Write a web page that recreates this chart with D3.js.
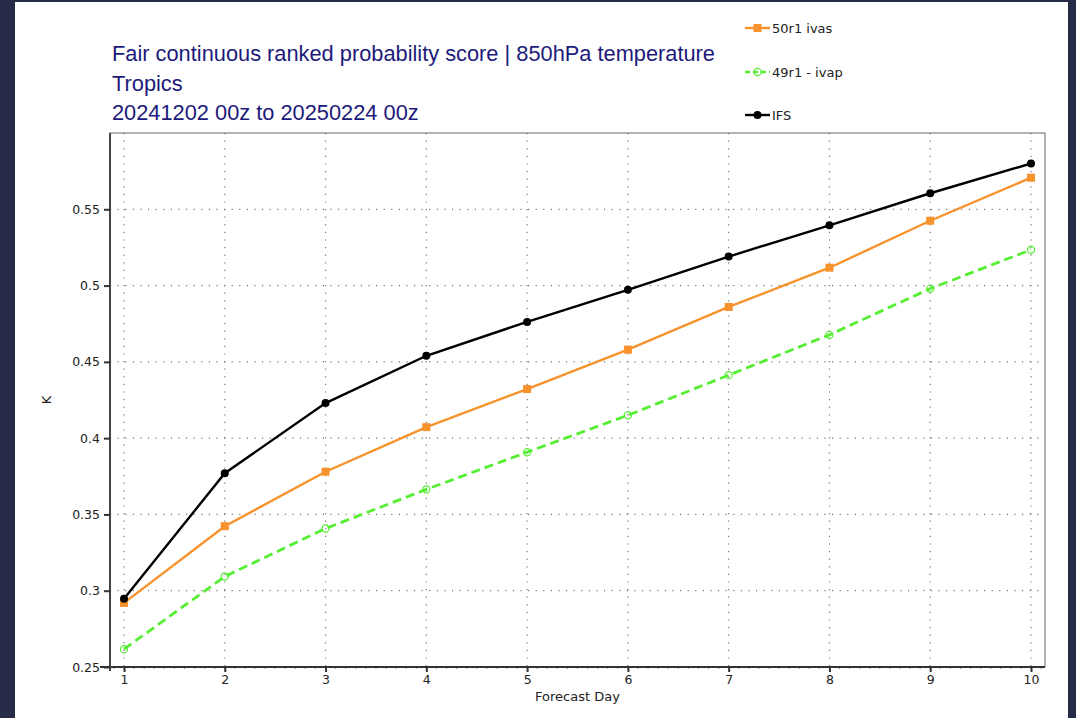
<!DOCTYPE html>
<html>
<head>
<meta charset="utf-8">
<script src="https://cdn.jsdelivr.net/npm/d3@7"></script>
<style>
  html, body { margin: 0; padding: 0; background: #262c47; }
  svg { display: block; }
</style>
</head>
<body>
<div id="chart"></div>
<script>
// forecast days and scores
const days = [1, 2, 3, 4, 5, 6, 7, 8, 9, 10];
const ivas50r1 = [0.2920, 0.3423, 0.3780, 0.4072, 0.4322, 0.4580, 0.4860, 0.5117, 0.5425, 0.5707];
const ivap49r1 = [0.2617, 0.3093, 0.3408, 0.3664, 0.3908, 0.4150, 0.4413, 0.4677, 0.4980, 0.5235];
const ifs = [0.2948, 0.3770, 0.4230, 0.4540, 0.4762, 0.4972, 0.5190, 0.5395, 0.5605, 0.5800];
const yTicks = [0.25, 0.3, 0.35, 0.4, 0.45, 0.5, 0.55];
const titleLines = ['Fair continuous ranked probability score | 850hPa temperature', 'Tropics', '20241202 00z to 20250224 00z'];

const series = [
	{name: '50r1 ivas', values: ivas50r1, color: '#f7922c', marker: 'square', dash: null},
	{name: '49r1 - ivap', values: ivap49r1, color: '#55ee33', marker: 'open', dash: '9,5'},
	{name: 'IFS', values: ifs, color: '#000000', marker: 'dot', dash: null}
];

const width = 1076, height = 718;
const plotLeft = 110, plotRight = 1045, plotTop = 133, plotBottom = 667;

var svg = d3.select('#chart')
	.append('svg')
	.attr('width', width)
	.attr('height', height);

svg.append('rect')
	.attr('x', 15).attr('y', 2)
	.attr('width', 1053).attr('height', height)
	.attr('fill', '#ffffff');

var xScale = d3.scaleLinear()
	.domain([0.861, 10.139])
	.range([plotLeft, plotRight]);

var yScale = d3.scaleLinear()
	.domain([0.25, 0.6])
	.range([plotBottom, plotTop]);

// title
svg.append('g')
	.selectAll('text')
	.data(titleLines)
	.enter()
	.append('text')
	.attr('x', 112)
	.attr('y', (d, i) => 61 + i * 29.5)
	.attr('font-family', 'Liberation Sans, Arial, sans-serif')
	.attr('font-size', 21.8)
	.attr('fill', '#1c1a7a')
	.text(d => d);

// grid
svg.append('g')
	.selectAll('line')
	.data(days)
	.enter()
	.append('line')
	.attr('x1', d => xScale(d)).attr('x2', d => xScale(d))
	.attr('y1', plotTop).attr('y2', plotBottom)
	.attr('stroke', '#777')
	.attr('stroke-width', 1.2)
	.attr('stroke-dasharray', '1.2,6.4');

svg.append('g')
	.selectAll('line')
	.data(yTicks.slice(1))
	.enter()
	.append('line')
	.attr('x1', plotLeft).attr('x2', plotRight)
	.attr('y1', d => yScale(d)).attr('y2', d => yScale(d))
	.attr('stroke', '#777')
	.attr('stroke-width', 1.2)
	.attr('stroke-dasharray', '1.2,6.4');

// frame
svg.append('rect')
	.attr('x', plotLeft).attr('y', plotTop)
	.attr('width', plotRight - plotLeft).attr('height', plotBottom - plotTop)
	.attr('fill', 'none')
	.attr('stroke', '#666')
	.attr('stroke-width', 1);

// minor ticks on bottom axis
svg.append('g')
	.selectAll('line')
	.data(d3.range(0.9, 10.11, 0.1))
	.enter()
	.append('line')
	.attr('x1', d => xScale(d)).attr('x2', d => xScale(d))
	.attr('y1', plotBottom).attr('y2', plotBottom + 2)
	.attr('stroke', '#777')
	.attr('stroke-width', 0.8);

var xAxis = g => g
	.attr('transform', `translate(0,${plotBottom})`)
	.call(d3.axisBottom(xScale).tickValues(days).tickSize(5).tickPadding(3).tickFormat(d3.format('d')))
	.call(g => g.select('.domain').attr('stroke', '#333').attr('stroke-width', 2).attr('d', `M${plotLeft - 10},0H${plotRight}`));

var yAxis = g => g
	.attr('transform', `translate(${plotLeft},0)`)
	.call(d3.axisLeft(yScale).tickValues(yTicks).tickSize(6).tickPadding(4).tickFormat(d => String(d)))
	.call(g => g.select('.domain').attr('stroke', '#444').attr('stroke-width', 2).attr('d', `M0,${plotBottom + 4}V${plotTop}`));

svg.append('g').call(xAxis);
svg.append('g').call(yAxis);

svg.selectAll('.tick text')
	.attr('font-family', 'DejaVu Sans, sans-serif')
	.attr('font-size', 12.5)
	.attr('fill', '#222');
svg.selectAll('.tick line')
	.attr('stroke', '#333')
	.attr('stroke-width', 2);

// axis labels
svg.append('text')
	.attr('x', (plotLeft + plotRight) / 2)
	.attr('y', 701)
	.attr('text-anchor', 'middle')
	.attr('font-family', 'DejaVu Sans, sans-serif')
	.attr('font-size', 13)
	.attr('fill', '#222')
	.text('Forecast Day');

svg.append('text')
	.attr('transform', 'translate(51,400) rotate(-90)')
	.attr('text-anchor', 'middle')
	.attr('font-family', 'DejaVu Sans, sans-serif')
	.attr('font-size', 13)
	.attr('fill', '#222')
	.text('K');

// series
var line = d3.line()
	.x((d, i) => xScale(days[i]))
	.y(d => yScale(d));

function drawMarker(g, s, x, y) {
	if (s.marker === 'square') {
		g.append('rect')
			.attr('x', x - 4).attr('y', y - 4)
			.attr('width', 8).attr('height', 8)
			.attr('fill', s.color);
	} else if (s.marker === 'open') {
		g.append('circle')
			.attr('cx', x).attr('cy', y).attr('r', 3.6)
			.attr('fill', 'none')
			.attr('stroke', s.color)
			.attr('stroke-width', 1.2);
	} else {
		g.append('circle')
			.attr('cx', x).attr('cy', y).attr('r', 4)
			.attr('fill', s.color);
	}
}

for (let s of series) {
	var g = svg.append('g');
	g.append('path')
		.attr('d', line(s.values))
		.attr('fill', 'none')
		.attr('stroke', s.color)
		.attr('stroke-width', s.dash ? 2.8 : 2.4)
		.attr('stroke-dasharray', s.dash);
	s.values.forEach((v, i) => drawMarker(g, s, xScale(days[i]), yScale(v)));
}

// legend
const legendY = [28, 72, 115];
series.forEach((s, i) => {
	var g = svg.append('g');
	var y = legendY[i];
	g.append('line')
		.attr('x1', 745).attr('x2', 770)
		.attr('y1', y).attr('y2', y)
		.attr('stroke', s.color)
		.attr('stroke-width', 2.4)
		.attr('stroke-dasharray', s.dash ? '5,3' : null);
	drawMarker(g, s, 757.5, y);
	g.append('text')
		.attr('x', 772)
		.attr('y', y + 4.5)
		.attr('font-family', 'DejaVu Sans, sans-serif')
		.attr('font-size', 13)
		.attr('fill', '#222')
		.text(s.name);
});
</script>
</body>
</html>
